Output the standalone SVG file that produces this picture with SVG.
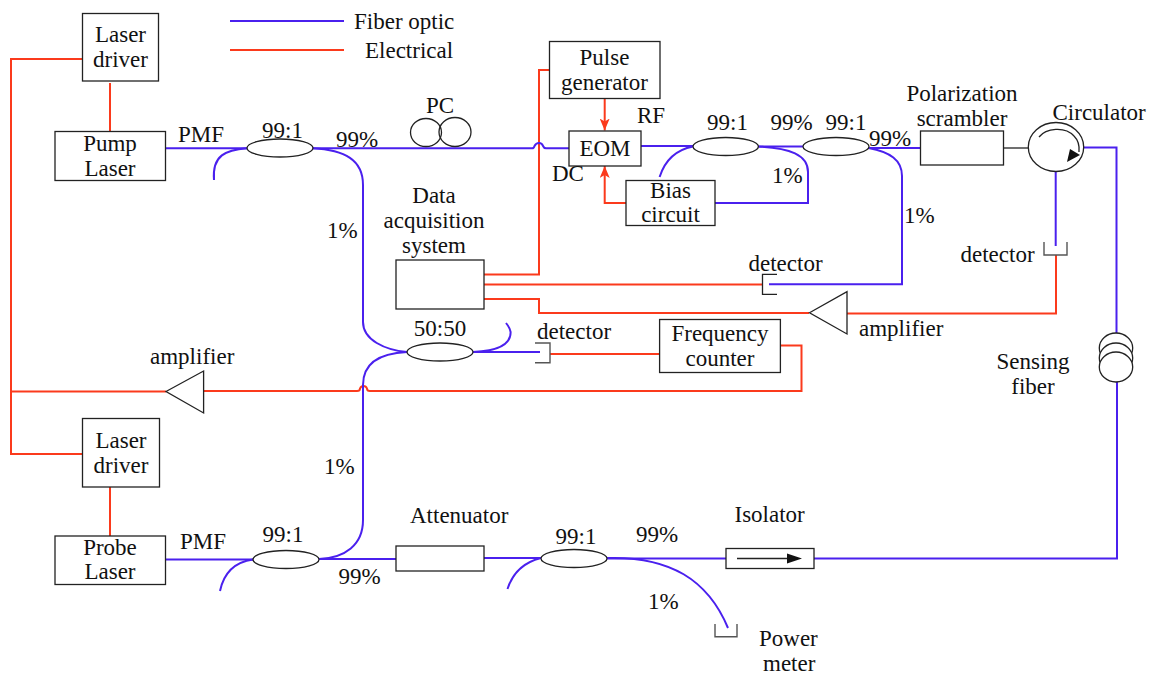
<svg xmlns="http://www.w3.org/2000/svg" width="1155" height="673" viewBox="0 0 1155 673">
<style>
text{font-family:"Liberation Serif","Times New Roman",serif;font-size:23px;fill:#111}
.m{text-anchor:middle}
.b,.r,.g{fill:none;stroke-linejoin:miter}
.b{stroke:#4a20ee;stroke-width:2}
.r{stroke:#fb3a1c;stroke-width:2}
.g{stroke:#555;stroke-width:1.4}
.n{fill:#fff;stroke:#222;stroke-width:1.3}
.k{fill:none;stroke:#222;stroke-width:1.3}
</style>
<defs>
<marker id="ra" markerUnits="userSpaceOnUse" markerWidth="14" markerHeight="10" refX="12" refY="5" orient="auto"><path d="M0 0L12 5L0 10L3 5Z" fill="#fb3a1c"/></marker>
</defs>
<rect width="1155" height="673" fill="#fff"/>
<g id="connectors">
<path class="b" d="M230 21H344"/>
<path class="r" d="M230 50H344"/>
<path class="r" d="M82 59H11V454H83M11 391.500H166"/>
<path class="r" d="M110 83V131.500M110 487V536"/>
<path class="r" d="M484 274.500H539V70H549.500"/>
<path class="r" d="M484 284.500H762.500"/>
<path class="r" d="M484 299H539V313H809"/>
<path class="r" d="M847 313.500H1056V255"/>
<path class="r" d="M204 391H357Q360 391 360 388.500Q361 386 363.500 386Q366 386 367 388.500Q367 391 370 391H801.500V345.500H780"/>
<path class="r" d="M550 354H660"/>
<path class="r" marker-end="url(#ra)" d="M604.700 98V130.500"/>
<path class="r" marker-end="url(#ra)" d="M626 203H604.700V166"/>
<path class="b" d="M165 148.300H247M312.500 148.300H532Q534 148.300 534.500 146Q536 143 539 143Q542 143 543 146Q544 148.300 546 148.300H569"/>
<path class="b" d="M247 148.300C226 150 212 155 214 180"/>
<path class="b" d="M312.500 148.300C345 150 363 160 363 185V322C363 340 385 350 407 352"/>
<path class="b" d="M407 352C385 353 363 360 363 385V520C363 545 345 558 319 559"/>
<path class="b" d="M473 352C495 351 511 346 510.600 332Q510 328 506 323"/>
<path class="b" d="M473 352H540"/>
<path class="b" d="M165 559.500H253M319 559H396M484 558H541M607 558.500H726M814 558.500H1117V382M1116.500 333V147.500H1084"/>
<path class="b" d="M253 559.500C235 562 224 572 220 591"/>
<path class="b" d="M541 558C525 562 513 572 507.500 589"/>
<path class="b" d="M607 558C670 556 708 580 728 628"/>
<path class="b" d="M641 146H693M758 146.500H803"/>
<path class="b" d="M693 146.500C675 150 665 160 659.600 177"/>
<path class="b" d="M758 146.500C790 148 808 155 808 172V203H715"/>
<path class="b" d="M868.600 148H920.400"/>
<path class="b" d="M868.600 148C890 152 902 160 902 176V284.300H769"/>
<path class="b" d="M1055.700 171V246"/>
<path class="k" d="M1003.500 148H1028.500"/>
</g>
<g id="legend"><text x="354" y="29">Fiber optic</text><text x="365" y="58">Electrical</text></g>
<g id="laser-driver-1"><rect class="n" x="82.500" y="13.500" width="76" height="67.500"/><text class="m" x="120.500" y="42">Laser</text><text class="m" x="120.500" y="67">driver</text></g>
<g id="pump-laser"><rect class="n" x="55" y="131.500" width="110.500" height="49"/><text class="m" x="110" y="151">Pump</text><text class="m" x="110" y="176">Laser</text></g>
<g id="pmf-1"><text x="178" y="142">PMF</text></g>
<g id="coupler-1"><ellipse class="n" cx="280" cy="148" rx="33" ry="9"/><text class="m" x="282.500" y="138">99:1</text><text x="336" y="147">99%</text><text x="327" y="238">1%</text></g>
<g id="pc"><ellipse class="k" cx="426" cy="132.500" rx="15.500" ry="14"/><ellipse class="k" cx="455" cy="132" rx="16" ry="14.500"/><text class="m" x="440" y="113">PC</text></g>
<g id="pulse-generator"><rect class="n" x="549.500" y="41.500" width="110.500" height="57"/><text class="m" x="604.500" y="65">Pulse</text><text class="m" x="604.500" y="90">generator</text></g>
<g id="eom"><rect class="n" x="569" y="131" width="72" height="35"/><text class="m" x="605" y="156">EOM</text><text x="637" y="123">RF</text><text x="552" y="181">DC</text></g>
<g id="bias-circuit"><rect class="n" x="626" y="180.500" width="89" height="45"/><text class="m" x="670.500" y="198">Bias</text><text class="m" x="670.500" y="222">circuit</text></g>
<g id="coupler-2"><ellipse class="n" cx="725.700" cy="146.500" rx="32.700" ry="9"/><text class="m" x="727.500" y="130">99:1</text><text x="770.500" y="130">99%</text><text x="772" y="183">1%</text></g>
<g id="coupler-3"><ellipse class="n" cx="836" cy="146.500" rx="33" ry="9"/><text class="m" x="846" y="130">99:1</text><text x="869" y="146">99%</text><text x="904" y="223">1%</text></g>
<g id="polarization-scrambler"><rect class="n" x="920.500" y="131" width="83" height="34"/><text class="m" x="962" y="101">Polarization</text><text class="m" x="962" y="126">scrambler</text></g>
<g id="circulator"><ellipse class="k" cx="1056" cy="147" rx="27.700" ry="24.500"/><path class="k" d="M1039 137C1046 128 1065 126 1074 136Q1080 142 1079 152"/><path d="M1070 149L1080 155L1067 162Z" fill="#111"/><text x="1052.500" y="120">Circulator</text></g>
<g id="data-acquisition"><rect class="n" x="396" y="260" width="88" height="49"/><text class="m" x="434" y="203">Data</text><text class="m" x="434" y="228">acquisition</text><text class="m" x="434" y="253">system</text></g>
<g id="detector-1"><path class="k" d="M777 274.300H762.500V294.300H777"/><text x="748.500" y="271">detector</text></g>
<g id="detector-2"><path class="g" d="M1044 242V255H1067V242"/><text x="960.500" y="262">detector</text></g>
<g id="amplifier-1"><path class="n" d="M809.500 312.700L847 291.700V334Z"/><text x="859" y="336">amplifier</text></g>
<g id="coupler-50"><ellipse class="n" cx="440" cy="352" rx="33" ry="9"/><text class="m" x="440" y="336">50:50</text></g>
<g id="detector-3"><path class="g" d="M535 343H550V362.700H535"/><text x="537" y="339">detector</text></g>
<g id="frequency-counter"><rect class="n" x="659.600" y="319.500" width="120.800" height="53"/><text class="m" x="720" y="341">Frequency</text><text class="m" x="720" y="366">counter</text></g>
<g id="amplifier-2"><path class="n" d="M166 391.500L203.600 371V413Z"/><text x="150" y="364">amplifier</text></g>
<g id="sensing-fiber"><ellipse class="n" cx="1116" cy="348" rx="16.700" ry="15"/><ellipse class="n" cx="1116" cy="358" rx="16.700" ry="15"/><ellipse class="n" cx="1116" cy="367" rx="16.700" ry="15"/><text class="m" x="1033" y="369">Sensing</text><text class="m" x="1033" y="394">fiber</text></g>
<g id="laser-driver-2"><rect class="n" x="82.500" y="418.500" width="77" height="68.500"/><text class="m" x="121" y="448">Laser</text><text class="m" x="121" y="473">driver</text></g>
<g id="probe-laser"><rect class="n" x="55" y="536" width="110.500" height="48.500"/><text class="m" x="110" y="555">Probe</text><text class="m" x="110" y="579">Laser</text></g>
<g id="pmf-2"><text x="180" y="549">PMF</text></g>
<g id="coupler-4"><ellipse class="n" cx="286" cy="559.500" rx="33" ry="9"/><text class="m" x="283" y="542">99:1</text><text x="338.500" y="584">99%</text><text x="324" y="474">1%</text></g>
<g id="attenuator"><rect class="n" x="396" y="546" width="88" height="25"/><text x="410" y="523">Attenuator</text></g>
<g id="coupler-5"><ellipse class="n" cx="574" cy="558.500" rx="33" ry="9"/><text class="m" x="576" y="544">99:1</text><text x="636" y="542">99%</text><text x="648" y="609">1%</text></g>
<g id="isolator"><rect class="n" x="726" y="548.500" width="88" height="20"/><path class="k" d="M737 558.500H790"/><path d="M787 553.500L802 558.500L787 563.500Z" fill="#111"/><text x="734.500" y="522">Isolator</text></g>
<g id="power-meter"><path class="g" d="M715 624V636.700H737V624"/><text x="759" y="646">Power</text><text x="763" y="671">meter</text></g>
</svg>
